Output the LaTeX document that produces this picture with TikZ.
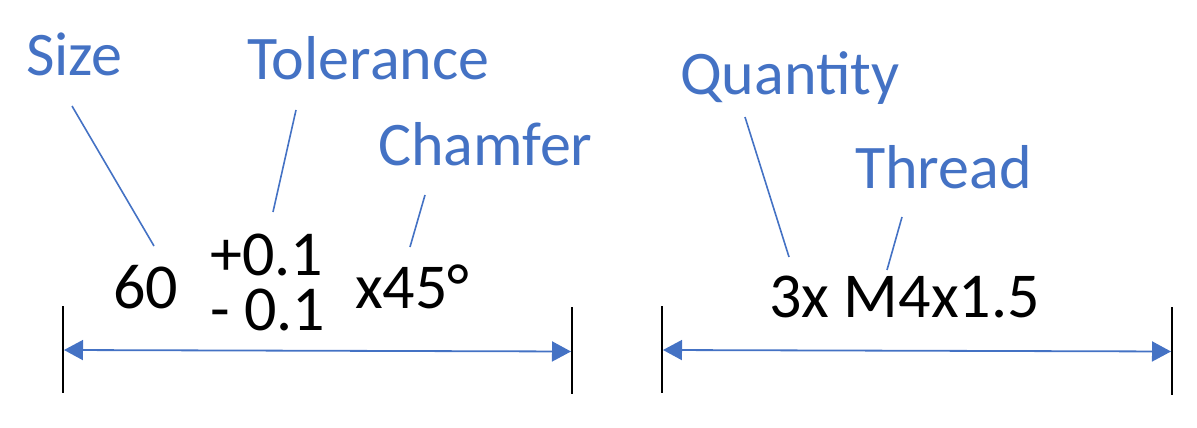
\documentclass[tikz,border=0pt]{standalone}
\usepackage{fontspec}
\setmainfont{Carlito}
\usetikzlibrary{arrows.meta}
\definecolor{accent}{RGB}{68,114,196}
\tikzset{
  lbl/.style={anchor=base west, inner sep=0pt, text=accent, font=\fontsize{62}{70}\selectfont},
  val/.style={anchor=base west, inner sep=0pt, text=black, font=\fontsize{64}{72}\selectfont},
  leader/.style={draw=accent, line width=1.6pt},
  ext/.style={draw=black, line width=1.8pt},
  dim/.style={draw=accent, line width=1.8pt, {Triangle[length=19pt,width=20pt]}-{Triangle[length=19pt,width=20pt]}}
}
\begin{document}
\begin{tikzpicture}[x=1pt,y=-1pt]
\useasboundingbox (0,0) rectangle (1197,428);
% labels
\node[lbl] (size) at (26,75) {Size};
\node[lbl] (tol) at (247,80) {Tolerance};
\node[lbl] (cham) at (378,165) {Chamfer};
\node[lbl] (qty) at (680,94) {Quantity};
\node[lbl] (thr) at (855,188) {Thread};
% values
\node[val] (sixty) at (113,308) {60};
\node[val, align=left, font=\fontsize{64}{55}\selectfont] (pm) at (210,330) {+0.1\\- 0.1};
\node[val] (ang) at (355,308) {x45°};
\node[val] (spec) at (769,317) {3x M4x1.5};
% leader endpoints
\coordinate (s1) at (72,106);   \coordinate (s2) at (154,246);
\coordinate (t1) at (296,110);  \coordinate (t2) at (273,212);
\coordinate (c1) at (425,195);  \coordinate (c2) at (410,247);
\coordinate (q1) at (745,117);  \coordinate (q2) at (789,257);
\coordinate (h1) at (902,217);  \coordinate (h2) at (887,270);
\draw[leader] (s1) -- (s2);
\draw[leader] (t1) -- (t2);
\draw[leader] (c1) -- (c2);
\draw[leader] (q1) -- (q2);
\draw[leader] (h1) -- (h2);
% extension lines
\coordinate (a1) at (63,306);   \coordinate (a2) at (63,393);
\coordinate (b1) at (572,307);  \coordinate (b2) at (572,394);
\coordinate (d1) at (662,306);  \coordinate (d2) at (662,393);
\coordinate (e1) at (1172,307); \coordinate (e2) at (1172,395);
\draw[ext] (a1) -- (a2);
\draw[ext] (b1) -- (b2);
\draw[ext] (d1) -- (d2);
\draw[ext] (e1) -- (e2);
% dimension lines
\coordinate (la) at (64,350);  \coordinate (lb) at (571,351.5);
\coordinate (ra) at (663,350); \coordinate (rb) at (1171,351.5);
\draw[dim] (la) -- (lb);
\draw[dim] (ra) -- (rb);
\end{tikzpicture}
\end{document}
